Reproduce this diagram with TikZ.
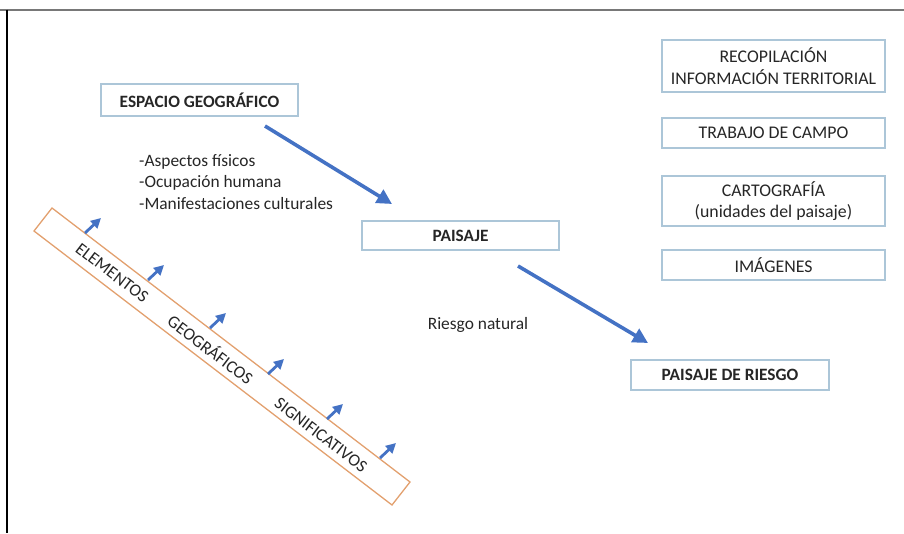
\documentclass[tikz,border=0pt]{standalone}
\usepackage{fontspec}
\setmainfont{Carlito}
\usetikzlibrary{arrows.meta}
\definecolor{boxblue}{RGB}{172,198,216}
\definecolor{arrblue}{RGB}{68,114,196}
\definecolor{bandorange}{RGB}{226,160,110}
\definecolor{framegray}{RGB}{120,120,120}
\tikzset{
  box/.style={draw=boxblue, line width=1.3pt, align=center, inner sep=0pt, font=\fontsize{17.8}{21.5}\selectfont, text=black!85},
  boldbox/.style={box, font=\fontsize{17.3}{21}\selectfont\bfseries},
  bigarrow/.style={draw=arrblue, line width=3.6pt, -{Triangle[length=15pt,width=15pt]}},
  smallarrow/.style={draw=arrblue, line width=2.8pt, -{Triangle[length=10pt,width=10pt]}},
  plain/.style={font=\fontsize{17.4}{21.5}\selectfont, text=black!85, inner sep=0pt},
  bandtext/.style={plain, rotate=-37.43}
}
\begin{document}
\begin{tikzpicture}[x=1pt,y=-1pt]
\useasboundingbox (0,0) rectangle (904,533);
% frame
\draw[framegray, line width=2pt] (0,9.5) -- (904,9.5);
\draw[black, line width=2pt] (7,9.5) -- (7,533);
% boxes
\node[boldbox, minimum width=197pt, minimum height=32pt] (esp) at (199.5,100) {ESPACIO GEOGRÁFICO};
\node[boldbox, minimum width=197pt, minimum height=29pt] (pai) at (460.5,235.5) {PAISAJE};
\node[boldbox, minimum width=198pt, minimum height=30pt] (pdr) at (730,375) {PAISAJE DE RIESGO};
\node[box, minimum width=223pt, minimum height=52pt] (rec) at (773.5,66) {RECOPILACIÓN\\INFORMACIÓN TERRITORIAL};
\node[box, minimum width=223pt, minimum height=30pt] (tra) at (773.5,133) {TRABAJO DE CAMPO};
\node[box, minimum width=223pt, minimum height=50pt] (car) at (773.5,201) {CARTOGRAFÍA\\(unidades del paisaje)};
\node[box, minimum width=223pt, minimum height=30pt] (ima) at (773.5,265) {IMÁGENES};
% texts
\node[plain, anchor=north west, align=left] (list) at (139,154) {-Aspectos físicos\\-Ocupación humana\\-Manifestaciones culturales};
\node[plain] (riesgo) at (478,325) {Riesgo natural};
% big arrows
\coordinate (a1s) at (265,126);
\coordinate (a1e) at (392,204);
\coordinate (a2s) at (518,266);
\coordinate (a2e) at (648,343);
\draw[bigarrow] (a1s) -- (a1e);
\draw[bigarrow] (a2s) -- (a2e);
% band
\coordinate (b1) at (52,208);
\coordinate (b2) at (410,482);
\coordinate (b3) at (392,505);
\coordinate (b4) at (34,231);
\draw[bandorange, line width=1.3pt] (b1) -- (b2) -- (b3) -- (b4) -- cycle;
\node[bandtext] (t1) at (112,273) {ELEMENTOS};
\node[bandtext] (t2) at (211,349) {GEOGRÁFICOS};
\node[bandtext] (t3) at (321,435) {SIGNIFICATIVOS};
% small arrows
\foreach \i/\sx/\sy in {1/85/233, 2/148/280, 3/210/328, 4/268/374, 5/327/419, 6/380/458}{
  \coordinate (s\i) at (\sx,\sy);
  \coordinate (e\i) at ({\sx+16},{\sy-15});
  \draw[smallarrow] (s\i) -- (e\i);
}
\end{tikzpicture}
\end{document}
